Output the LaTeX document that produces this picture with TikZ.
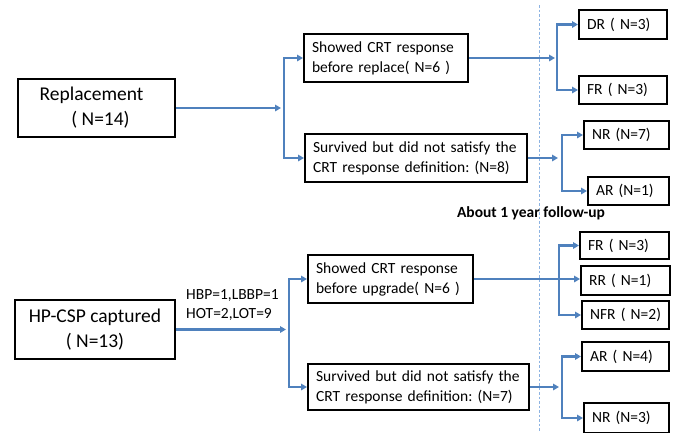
\documentclass[tikz,border=0pt]{standalone}
\usepackage{fontspec}
\setmainfont{Carlito}
\usetikzlibrary{arrows.meta}
\definecolor{lnblue}{HTML}{4F81BD}
\definecolor{dashblue}{HTML}{8DB3E2}
\frenchspacing
\begin{document}
\begin{tikzpicture}[x=1pt,y=-1pt,
 box/.style={draw=black,line width=2.2pt,anchor=west,inner xsep=8pt,inner ysep=0pt,align=left,font=\fontsize{15.5}{20}\selectfont},
 bigbox/.style={draw=black,line width=2.2pt,anchor=center,inner sep=0pt,align=center,font=\fontsize{19.5}{25}\selectfont},
 conn/.style={draw=lnblue,line width=2.1pt,-{Triangle[length=6pt,width=6.5pt]}},
 plain/.style={inner sep=2pt,align=left,font=\fontsize{15.5}{19}\selectfont}]
\useasboundingbox (0,0) rectangle (675,432);
\fill[white] (0,0) rectangle (675,432);
% dashed follow-up line
\coordinate (dtop) at (539,5);
\coordinate (dbot) at (539,432);
\draw[dashblue,line width=1pt,dash pattern=on 2.5pt off 2pt] (dtop) -- (dbot);
% main boxes
\node[bigbox,minimum width=157pt,minimum height=58pt] (rep) at (96.5,108) {Replacement\hspace*{10pt}\\\hspace*{8pt}( N=14)};
\node[bigbox,minimum width=160pt,minimum height=59pt] (hp) at (95,329.5) {HP-CSP captured\\( N=13)};
% middle boxes
\node[box,text width=148pt,minimum height=48pt] (show1) at (303,58) {Showed CRT response\\before replace( N=6 )};
\node[box,text width=206pt,minimum height=48pt] (surv1) at (304,158) {Survived but did not satisfy the\\CRT response definition: (N=8)};
\node[box,text width=149pt,minimum height=48pt] (show2) at (307,279) {Showed CRT response\\before upgrade( N=6 )};
\node[box,text width=205pt,minimum height=46pt] (surv2) at (307,387) {Survived but did not satisfy the\\CRT response definition: (N=7)};
% outcome boxes
\node[box,text width=72pt,minimum height=29pt] (dr) at (578,24.5) {DR ( N=3)};
\node[box,text width=72pt,minimum height=28pt] (fr) at (578,90) {FR ( N=3)};
\node[box,text width=69pt,minimum height=28pt] (nr) at (583,135) {NR (N=7)};
\node[box,text width=65pt,minimum height=28pt] (ar) at (587,191) {AR (N=1)};
\node[box,text width=73pt,minimum height=27pt] (fr2) at (579,245.5) {FR ( N=3)};
\node[box,text width=73pt,minimum height=29pt] (rr) at (580,280.5) {RR ( N=1)};
\node[box,text width=71pt,minimum height=28pt] (nfr) at (581,315) {NFR ( N=2)};
\node[box,text width=71pt,minimum height=29pt] (ar2) at (581,356.5) {AR ( N=4)};
\node[box,text width=69pt,minimum height=30pt] (nr2) at (583,418) {NR (N=3)};
% labels
\node[plain,anchor=west] (lab) at (184,304.5) {HBP=1,LBBP=1\\HOT=2,LOT=9};
\node[font=\bfseries\fontsize{15.5}{19}\selectfont] (fu) at (531,213) {About 1 year follow-up};
% junction coordinates
\coordinate (a1) at (281,108);   \coordinate (j1) at (284,108);
\coordinate (a2) at (555,58);    \coordinate (j2) at (557,58);
\coordinate (a3) at (558,158);   \coordinate (j3) at (562,158);
\coordinate (a4) at (286,329.5); \coordinate (j4) at (289,329.5);
\coordinate (j5) at (559,279);
\coordinate (a6) at (559,387);   \coordinate (j6) at (562,387);
% connectors
\draw[conn] (rep.east) -- (a1);
\draw[conn] (j1) |- (show1.west);
\draw[conn] (j1) |- (surv1.west);
\draw[conn] (show1.east) -- (a2);
\draw[conn] (j2) |- (dr.west);
\draw[conn] (j2) |- (fr.west);
\draw[conn] (surv1.east) -- (a3);
\draw[conn] (j3) |- (nr.west);
\draw[conn] (j3) |- (ar.west);
\draw[conn] (hp.east) -- (a4);
\draw[conn] (j4) |- (show2.west);
\draw[conn] (j4) |- (surv2.west);
\draw[conn] (show2.east) -- (show2.east -| rr.west);
\draw[conn] (j5) |- (fr2.west);
\draw[conn] (j5) |- (nfr.west);
\draw[conn] (surv2.east) -- (a6);
\draw[conn] (j6) |- (ar2.west);
\draw[conn] (j6) |- (nr2.west);
\end{tikzpicture}
\end{document}
